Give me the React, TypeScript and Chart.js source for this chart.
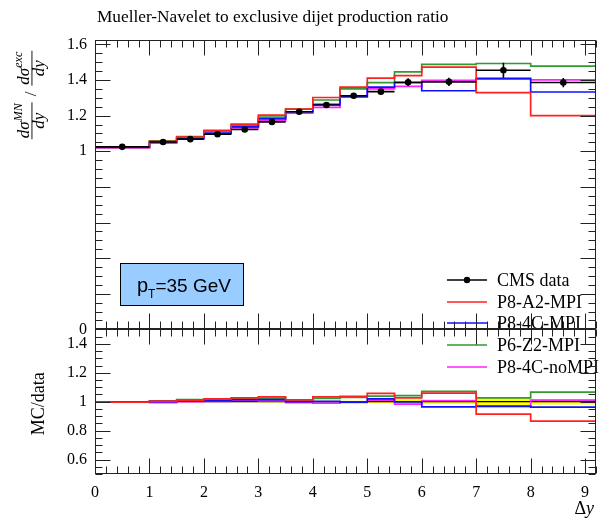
import React, { useEffect, useRef } from "react";
import { Chart, registerables } from "chart.js";
Chart.register(...registerables);

// ---------------- data ----------------
const binEdges = [0, 1, 1.5, 2, 2.5, 3, 3.5, 4, 4.5, 5, 5.5, 6, 7, 8, 9.2];
const cmsData = [1.025, 1.052, 1.068, 1.096, 1.122, 1.165, 1.222, 1.26, 1.312, 1.335, 1.388, 1.39, 1.455, 1.386];
const cmsErr = [0.004, 0.004, 0.004, 0.005, 0.005, 0.006, 0.006, 0.007, 0.009, 0.012, 0.022, 0.023, 0.042, 0.026];
const p8A2MPI = [1.022, 1.056, 1.08, 1.117, 1.152, 1.203, 1.237, 1.302, 1.36, 1.411, 1.425, 1.473, 1.329, 1.2];
const p84CMPI = [1.022, 1.052, 1.074, 1.102, 1.137, 1.182, 1.222, 1.263, 1.307, 1.36, 1.385, 1.34, 1.41, 1.333];
const p6Z2MPI = [1.023, 1.058, 1.083, 1.111, 1.146, 1.192, 1.237, 1.288, 1.35, 1.386, 1.446, 1.488, 1.493, 1.478];
const p84CnoMPI = [1.021, 1.045, 1.069, 1.098, 1.131, 1.171, 1.214, 1.247, 1.305, 1.35, 1.365, 1.399, 1.405, 1.401];

const xTicks = [0, 1, 2, 3, 4, 5, 6, 7, 8, 9];
const mainYTicks = [0, 1, 1.2, 1.4, 1.6];
const ratioYTicks = [0.6, 0.8, 1, 1.2, 1.4];

const titleText = "Mueller-Navelet to exclusive dijet production ratio";
const dataLabel = "CMS data";
const ptLabel = { main: "p", sub: "T", rest: "=35 GeV" };
const mcSeries = [
  { label: "P8-A2-MPI", color: "#ff2020", values: p8A2MPI },
  { label: "P8-4C-MPI", color: "#1010ff", values: p84CMPI },
  { label: "P6-Z2-MPI", color: "#2f9a2f", values: p6Z2MPI },
  { label: "P8-4C-noMPI", color: "#ff20ff", values: p84CnoMPI },
];

const FONT = '"Liberation Serif", "Times New Roman", serif';
const SANS = '"Liberation Sans", Arial, sans-serif';

// ---------------- helpers ----------------
const centers = binEdges.slice(0, -1).map((e, i) => (e + binEdges[i + 1]) / 2);
const steps = (vals: number[]) =>
  binEdges.map((e, i) => ({ x: e, y: vals[Math.min(i, vals.length - 1)] }));
const ratioOf = (vals: number[]) => vals.map((v, i) => v / cmsData[i]);

// ---------------- plugins ----------------
const errorBarPlugin = {
  id: "errorBars",
  afterDatasetsDraw(chart: any) {
    const { ctx } = chart;
    const xs = chart.scales.x;
    const ys = chart.scales.y;
    ctx.save();
    ctx.strokeStyle = "#000";
    ctx.lineWidth = 1.6;
    ctx.beginPath();
    cmsData.forEach((v, i) => {
      const x0 = xs.getPixelForValue(binEdges[i]);
      const x1 = xs.getPixelForValue(binEdges[i + 1]);
      const xc = xs.getPixelForValue(centers[i]);
      const py = ys.getPixelForValue(v);
      ctx.moveTo(x0, py);
      ctx.lineTo(x1, py);
      ctx.moveTo(xc, ys.getPixelForValue(v - cmsErr[i]));
      ctx.lineTo(xc, ys.getPixelForValue(v + cmsErr[i]));
    });
    ctx.stroke();
    ctx.restore();
  },
};

const ptBoxPlugin = {
  id: "ptBox",
  afterDraw(chart: any) {
    const { ctx } = chart;
    ctx.save();
    ctx.fillStyle = "#99ccff";
    ctx.strokeStyle = "#000";
    ctx.lineWidth = 1;
    ctx.fillRect(120.5, 263.5, 123, 42);
    ctx.strokeRect(120.5, 263.5, 123, 42);
    ctx.fillStyle = "#000";
    ctx.textAlign = "left";
    ctx.textBaseline = "alphabetic";
    let x = 137;
    ctx.font = `20px ${SANS}`;
    ctx.fillText(ptLabel.main, x, 292);
    x += ctx.measureText(ptLabel.main).width;
    ctx.font = `12px ${SANS}`;
    ctx.fillText(ptLabel.sub, x, 298);
    x += ctx.measureText(ptLabel.sub).width;
    ctx.font = `19px ${SANS}`;
    ctx.fillText(ptLabel.rest, x, 292);
    ctx.restore();
  },
};

const legendPlugin = {
  id: "customLegend",
  afterDraw(chart: any) {
    const { ctx } = chart;
    const x0 = 447, x1 = 487, tx = 497;
    const rows = [280, 302, 323, 345, 367];
    ctx.save();
    ctx.font = `18px ${FONT}`;
    ctx.textBaseline = "middle";
    ctx.textAlign = "left";
    ctx.strokeStyle = "#000";
    ctx.lineWidth = 1.6;
    ctx.beginPath();
    ctx.moveTo(x0, rows[0]);
    ctx.lineTo(x1, rows[0]);
    ctx.stroke();
    ctx.fillStyle = "#000";
    ctx.beginPath();
    ctx.arc((x0 + x1) / 2, rows[0], 3.2, 0, Math.PI * 2);
    ctx.fill();
    ctx.fillText(dataLabel, tx, rows[0] + 1);
    mcSeries.forEach((s, i) => {
      const y = rows[i + 1];
      ctx.strokeStyle = s.color;
      ctx.lineWidth = 1.6;
      ctx.beginPath();
      ctx.moveTo(x0, y);
      ctx.lineTo(x1, y);
      ctx.stroke();
      ctx.fillStyle = "#000";
      ctx.fillText(s.label, tx, y + 1);
    });
    ctx.restore();
  },
};

const framePlugin = {
  id: "frameTicks",
  afterDraw(chart: any) {
    const { ctx } = chart;
    const xs = chart.scales.x;
    const L = Math.round(xs.left) + 0.5;
    const R = Math.round(xs.right) - 0.5;
    ctx.save();
    ctx.strokeStyle = "#222";
    ctx.lineWidth = 1;
    for (const id of ["y", "y2"]) {
      const ys = chart.scales[id];
      const T = Math.round(ys.top) + 0.5;
      const B = Math.round(ys.bottom) - 0.5;
      ctx.strokeRect(L, T, R - L, B - T);
      ctx.beginPath();
      const kS = Math.ceil(ys.min / 0.05 - 1e-6);
      const kE = Math.floor(ys.max / 0.05 + 1e-6);
      for (let k = kS; k <= kE; k++) {
        const major = k % 4 === 0;
        const len = major ? 15 : 7;
        const py = Math.round(ys.getPixelForValue(k * 0.05)) + 0.5;
        ctx.moveTo(L, py);
        ctx.lineTo(L + len, py);
        ctx.moveTo(R, py);
        ctx.lineTo(R - len, py);
      }
      const jS = Math.ceil(xs.min / 0.2 - 1e-6);
      const jE = Math.floor(xs.max / 0.2 + 1e-6);
      for (let j = jS; j <= jE; j++) {
        const major = j % 5 === 0;
        const len = major ? 15 : 7;
        const px = Math.round(xs.getPixelForValue(j * 0.2)) + 0.5;
        ctx.moveTo(px, T);
        ctx.lineTo(px, T + len);
        ctx.moveTo(px, B);
        ctx.lineTo(px, B - len);
      }
      ctx.stroke();
    }
    ctx.restore();
  },
};

const textPlugin = {
  id: "texts",
  afterDraw(chart: any) {
    const { ctx } = chart;
    const xs = chart.scales.x;
    const ys = chart.scales.y;
    const ys2 = chart.scales.y2;
    ctx.save();
    ctx.fillStyle = "#000";
    // title
    ctx.font = `17.3px ${FONT}`;
    ctx.textAlign = "left";
    ctx.textBaseline = "alphabetic";
    ctx.fillText(titleText, xs.left + 2, 22);

    // x axis title: Δy
    ctx.textAlign = "left";
    ctx.font = `18px ${FONT}`;
    const dW = ctx.measureText("Δ").width;
    ctx.font = `italic 18px ${FONT}`;
    const yW = ctx.measureText("y").width;
    const startX = xs.right - dW - yW - 2;
    ctx.font = `18px ${FONT}`;
    ctx.fillText("Δ", startX, 514);
    ctx.font = `italic 18px ${FONT}`;
    ctx.fillText("y", startX + dW, 514);

    // ratio y label
    ctx.save();
    ctx.translate(44, (ys2.top + ys2.bottom) / 2 + 2);
    ctx.rotate(-Math.PI / 2);
    ctx.textAlign = "center";
    ctx.textBaseline = "alphabetic";
    ctx.font = `18px ${FONT}`;
    ctx.fillText("MC/data", 0, 0);
    ctx.restore();

    // main y label: fraction / fraction
    ctx.save();
    ctx.translate(32, ys.top + 55);
    ctx.rotate(-Math.PI / 2);
    const big = `italic 17px ${FONT}`;
    const sup = `italic 12px ${FONT}`;
    const slashFont = `17px ${FONT}`;
    const frac = (sym: string) => {
      ctx.font = big;
      const wd = ctx.measureText("dσ").width;
      ctx.font = sup;
      const ws = ctx.measureText(sym).width;
      ctx.font = big;
      const wy = ctx.measureText("dy").width;
      return { wd, ws, wy, w: Math.max(wd + ws, wy) + 2 };
    };
    const f1 = frac("MN");
    const f2 = frac("exc");
    ctx.font = slashFont;
    const wsl = ctx.measureText("/").width;
    const gap = 6;
    const total = f1.w + gap + wsl + gap + f2.w;
    let cx = -total / 2;
    const drawFrac = (f: any, sym: string, x: number) => {
      ctx.textAlign = "left";
      ctx.textBaseline = "alphabetic";
      const nx = x + (f.w - (f.wd + f.ws)) / 2;
      ctx.font = big;
      ctx.fillText("dσ", nx, -3);
      ctx.font = sup;
      ctx.fillText(sym, nx + f.wd, -10);
      ctx.font = big;
      ctx.fillText("dy", x + (f.w - f.wy) / 2, 12);
      ctx.fillRect(x, -0.5, f.w, 0.9);
    };
    drawFrac(f1, "MN", cx);
    cx += f1.w + gap;
    ctx.font = slashFont;
    ctx.textAlign = "left";
    ctx.textBaseline = "middle";
    ctx.fillText("/", cx, 0);
    cx += wsl + gap;
    drawFrac(f2, "exc", cx);
    ctx.restore();

    ctx.restore();
  },
};

// ---------------- component ----------------
export default function App() {
  const ref = useRef<HTMLCanvasElement | null>(null);

  useEffect(() => {
    if (!ref.current) return;
    const bandUp = cmsData.map((v, i) => 1 + cmsErr[i] / v);
    const bandLo = cmsData.map((v, i) => 1 - cmsErr[i] / v);

    const datasets: any[] = [];
    datasets.push({
      type: "line",
      label: dataLabel,
      data: centers.map((c, i) => ({ x: c, y: cmsData[i] })),
      yAxisID: "y",
      showLine: false,
      pointRadius: 3.3,
      pointBackgroundColor: "#000",
      pointBorderWidth: 0,
      order: 0,
    });
    mcSeries.forEach((s, i) => {
      datasets.push({
        type: "line",
        label: s.label,
        data: steps(s.values),
        yAxisID: "y",
        borderColor: s.color,
        borderWidth: 1.7,
        stepped: "before",
        pointRadius: 0,
        fill: false,
        order: 1 + i,
      });
    });
    mcSeries.forEach((s, i) => {
      datasets.push({
        type: "line",
        label: s.label + " ratio",
        data: steps(ratioOf(s.values)),
        yAxisID: "y2",
        borderColor: s.color,
        borderWidth: 1.7,
        stepped: "before",
        pointRadius: 0,
        fill: false,
        order: 1 + i,
      });
    });
    datasets.push({
      type: "line",
      label: "data ratio",
      data: steps(ratioOf(cmsData)),
      yAxisID: "y2",
      borderColor: "#000",
      borderWidth: 1.4,
      stepped: "before",
      pointRadius: 0,
      fill: false,
      order: 6,
    });
    const upIndex = datasets.length;
    datasets.push({
      type: "line",
      label: "band up",
      data: steps(bandUp),
      yAxisID: "y2",
      borderWidth: 0,
      borderColor: "rgba(0,0,0,0)",
      backgroundColor: "#ffff00",
      stepped: "before",
      pointRadius: 0,
      fill: upIndex + 1,
      order: 8,
    });
    datasets.push({
      type: "line",
      label: "band lo",
      data: steps(bandLo),
      yAxisID: "y2",
      borderWidth: 0,
      borderColor: "rgba(0,0,0,0)",
      stepped: "before",
      pointRadius: 0,
      fill: false,
      order: 9,
    });

    const tickFont = { family: FONT, size: 16 };
    const fmt = (v: number) => String(Math.round(v * 10) / 10);

    const chart = new Chart(ref.current, {
      type: "line",
      data: { datasets },
      options: {
        animation: false,
        responsive: false,
        devicePixelRatio: 1,
        events: [],
        layout: { padding: { top: 40, right: 2, left: 0, bottom: 0 } },
        plugins: {
          legend: { display: false },
          tooltip: { enabled: false },
          title: { display: false },
        },
        scales: {
          x: {
            type: "linear",
            min: binEdges[0],
            max: binEdges[binEdges.length - 1],
            grid: { display: false, drawTicks: false },
            border: { display: false },
            afterBuildTicks: (s: any) => {
              s.ticks = xTicks.map((v) => ({ value: v }));
            },
            afterFit: (s: any) => {
              s.height = 45;
            },
            ticks: {
              font: tickFont,
              color: "#000",
              padding: 9,
              maxRotation: 0,
              autoSkip: false,
              callback: (v: any) => fmt(Number(v)),
            },
          },
          y2: {
            type: "linear",
            position: "left",
            stack: "panels",
            stackWeight: 1,
            min: 0.5,
            max: 1.5,
            grid: { display: false, drawTicks: false },
            border: { display: false },
            afterBuildTicks: (s: any) => {
              s.ticks = ratioYTicks.map((v) => ({ value: v }));
            },
            afterFit: (s: any) => {
              s.width = 95;
            },
            ticks: {
              font: tickFont,
              color: "#000",
              padding: 8,
              autoSkip: false,
              callback: (v: any) => fmt(Number(v)),
            },
          },
          y: {
            type: "linear",
            position: "left",
            stack: "panels",
            stackWeight: 2,
            min: 0,
            max: 1.625,
            grid: { display: false, drawTicks: false },
            border: { display: false },
            afterBuildTicks: (s: any) => {
              s.ticks = mainYTicks.map((v) => ({ value: v }));
            },
            afterFit: (s: any) => {
              s.width = 95;
            },
            ticks: {
              font: tickFont,
              color: "#000",
              padding: 8,
              autoSkip: false,
              callback: (v: any) => fmt(Number(v)),
            },
          },
        },
      } as any,
      plugins: [errorBarPlugin, ptBoxPlugin, legendPlugin, framePlugin, textPlugin],
    });
    return () => chart.destroy();
  }, []);

  return (
    <div style={{ position: "fixed", left: 0, top: 0, width: 600, height: 519, background: "#fff" }}>
      <canvas ref={ref} width={600} height={519} style={{ display: "block", width: 600, height: 519 }} />
    </div>
  );
}
